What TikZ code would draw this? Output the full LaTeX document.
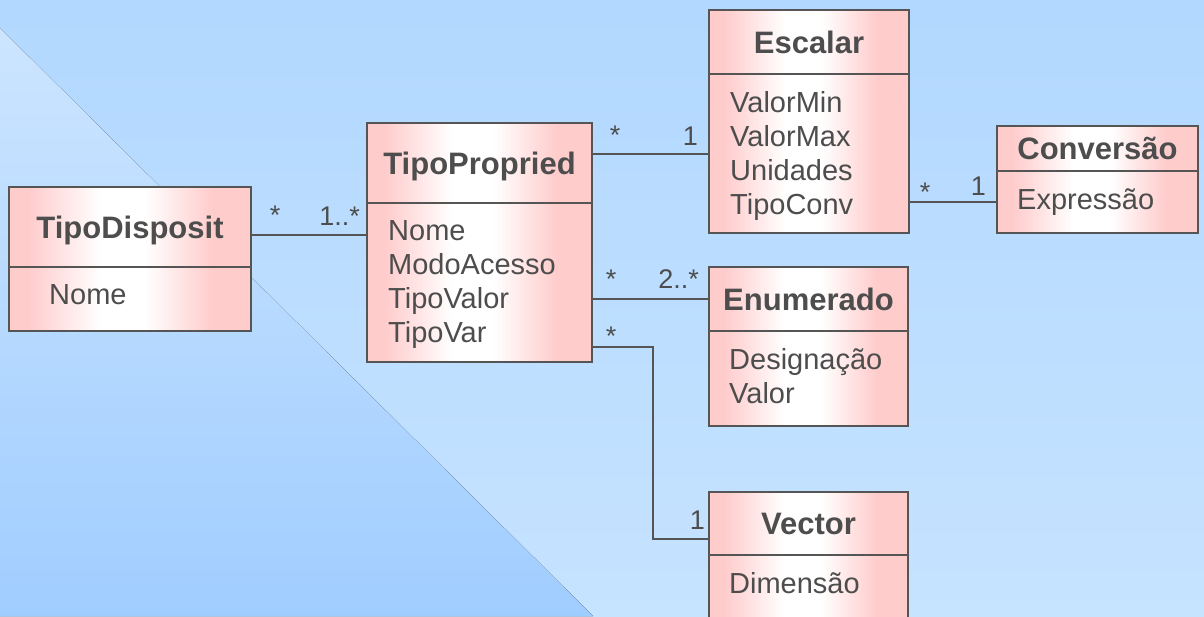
\documentclass[tikz,border=0pt]{standalone}
\usepackage{fontspec}
\setmainfont{Liberation Sans}
\usetikzlibrary{positioning}

\definecolor{bgtop}{RGB}{178,216,255}
\definecolor{bgbot}{RGB}{198,227,255}
\definecolor{bandtop}{RGB}{204,229,255}
\definecolor{bandbot}{RGB}{160,205,255}
\definecolor{umlpink}{RGB}{255,204,204}
\definecolor{umlline}{RGB}{85,85,85}
\definecolor{umltext}{RGB}{77,77,77}

\pgfdeclarehorizontalshading{umlfill}{100bp}{color(0bp)=(umlpink); color(29bp)=(umlpink); color(44bp)=(white); color(53bp)=(white); color(67bp)=(umlpink); color(100bp)=(umlpink)}

\tikzset{
  classhead/.style={draw=umlline, line width=2pt, shade, shading=umlfill, inner sep=0pt, outer sep=0pt,
    text=umltext, font=\fontsize{31}{36}\selectfont\bfseries, text height=22pt, text depth=0pt},
  classbody/.style={draw=umlline, line width=2pt, shade, shading=umlfill, inner sep=0pt, outer sep=0pt},
  attrs/.style={text=umltext, font=\fontsize{29}{34}\selectfont, align=left, inner sep=0pt},
  assoc/.style={draw=umlline, line width=2pt},
  mult/.style={text=umltext, font=\fontsize{27}{32}\selectfont, inner sep=0pt}
}

\begin{document}
\begin{tikzpicture}[x=1pt, y=-1pt]
		%%%%% BACKGROUND %%%%%
		\useasboundingbox (0,0) rectangle (1204,616);
		\fill[top color=bgtop, bottom color=bgbot] (0,0) rectangle (1204,616);
		\fill[top color=bandtop, bottom color=bandbot] (0,28) -- (593,616) -- (0,616) -- cycle;
		
		%%%%% CLASSES %%%%%
		\node[classhead, anchor=north west, minimum width=242pt, minimum height=80pt] (disph) at (9,187) {TipoDisposit};
		\node[classbody, below=0pt of disph, minimum width=242pt, minimum height=64pt] (dispb) {};
		\node[attrs, below right=17pt and 40pt of disph.south west] (dispa) {Nome};
		
		\node[classhead, anchor=north west, minimum width=225pt, minimum height=80pt] (proph) at (367,123) {TipoPropried};
		\node[classbody, below=0pt of proph, minimum width=225pt, minimum height=159pt] (propb) {};
		\node[attrs, below right=17pt and 21pt of proph.south west] (propa) {Nome\\ModoAcesso\\TipoValor\\TipoVar};
		
		\node[classhead, anchor=north west, minimum width=200pt, minimum height=64pt] (esch) at (709,10) {Escalar};
		\node[classbody, below=0pt of esch, minimum width=200pt, minimum height=159pt] (escb) {};
		\node[attrs, below right=17pt and 21pt of esch.south west] (esca) {ValorMin\\ValorMax\\Unidades\\TipoConv};
		
		\node[classhead, anchor=north west, minimum width=201pt, minimum height=45pt] (convh) at (997,126) {Conversão};
		\node[classbody, below=0pt of convh, minimum width=201pt, minimum height=62pt] (convb) {};
		\node[attrs, below right=17pt and 20pt of convh.south west] (conva) {Expressão};
		
		\node[classhead, anchor=north west, minimum width=199pt, minimum height=64pt] (enumh) at (709,267) {Enumerado};
		\node[classbody, below=0pt of enumh, minimum width=199pt, minimum height=95pt] (enumb) {};
		\node[attrs, below right=17pt and 20pt of enumh.south west] (enuma) {Designação\\Valor};
		
		\node[classhead, anchor=north west, minimum width=199pt, minimum height=63pt] (vech) at (709,492) {Vector};
		\node[classbody, below=0pt of vech, minimum width=199pt, minimum height=80pt] (vecb) {};
		\node[attrs, below right=17pt and 20pt of vech.south west] (veca) {Dimensão};
		
		%%%%% ASSOCIATIONS %%%%%
		\coordinate (dispend) at ([yshift=-8pt]disph.east);
		\draw[assoc] (dispend) -- (dispend -| propb.west);
		
		\coordinate (escend) at ([yshift=9pt]proph.east);
		\draw[assoc] (escend) -- (escend -| escb.west);
		
		\draw[assoc] (convb.west) -- (convb.west -| escb.east);
		
		\draw[assoc] (enumh.west) -- (enumh.west -| propb.east);
		
		\coordinate (vecstart) at ([yshift=-64.5pt]propb.east);
		\coordinate (vecend) at ([yshift=-15.5pt]vech.west);
		\draw[assoc] (vecstart) -- ++(61,0) |- (vecend);
		
		%%%%% MULTIPLICITIES %%%%%
		\node[mult, anchor=base] (m1a) at (275,224) {*};
		\node[mult, anchor=base east] (m1b) at (360,225) {1..*};
		\node[mult, anchor=base] (m2a) at (615,144) {*};
		\node[mult, anchor=base east] (m2b) at (698,145) {1};
		\node[mult, anchor=base] (m3a) at (925,201) {*};
		\node[mult, anchor=base east] (m3b) at (986,195) {1};
		\node[mult, anchor=base] (m4a) at (611,288) {*};
		\node[mult, anchor=base east] (m4b) at (699,288) {2..*};
		\node[mult, anchor=base] (m5a) at (611,345) {*};
		\node[mult, anchor=base east] (m5b) at (705,529) {1};
		
		%%%%% END %%%%%
\end{tikzpicture}
\end{document}
